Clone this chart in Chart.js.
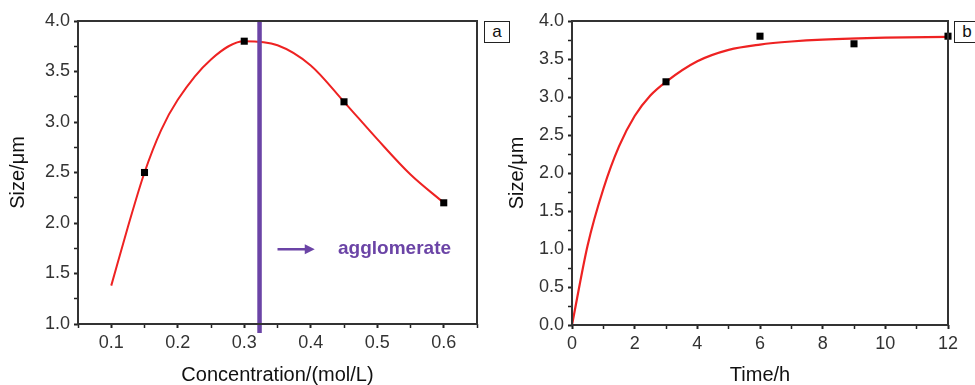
<!DOCTYPE html>
<html lang="en">
<head>
<meta charset="UTF-8">
<title>Size vs concentration and time</title>
<script src="https://cdn.jsdelivr.net/npm/chart.js"></script>
<style>
    body { margin: 0; background: #fff; font-family: "Liberation Sans", Arial, sans-serif; }
    #wrap { position: relative; width: 975px; height: 385px; overflow: hidden; }
    .panel { position: absolute; top: 0; height: 385px; }
    #panelA { left: 0; width: 482px; }
    #panelB { left: 490px; width: 485px; }
    .tag {
        position: absolute; top: 21px; width: 24px; height: 20px;
        border: 1px solid #222; font-size: 17px; line-height: 19px;
        text-align: center; color: #111; background: #fff;
    }
</style>
</head>
<body>
<div id="wrap">
    <div class="panel" id="panelA"><canvas id="chartA"></canvas></div>
    <div class="panel" id="panelB"><canvas id="chartB"></canvas></div>
    <div class="tag" style="left:484px">a</div>
    <div class="tag" style="left:954px">b</div>
</div>
<script>
// panel a: size vs concentration
const concPoints = [0.15, 0.3, 0.45, 0.6];
const concSizes = [2.5, 3.8, 3.2, 2.2];
const concFitX = [0.1, 0.125, 0.15, 0.175, 0.2, 0.25, 0.3, 0.35, 0.4, 0.45, 0.5, 0.55, 0.6];
const concFitY = [1.38, 1.96, 2.5, 2.92, 3.22, 3.62, 3.8, 3.76, 3.56, 3.2, 2.83, 2.48, 2.2];
const agglomerateAt = 0.323;

// panel b: size vs time
const timePoints = [3, 6, 9, 12];
const timeSizes = [3.2, 3.8, 3.7, 3.8];
const timeFitX = [0, 0.5, 1, 1.5, 2, 2.5, 3, 4, 5, 6, 7, 8, 10, 12];
const timeFitY = [0, 1.05, 1.79, 2.35, 2.75, 3.02, 3.2, 3.47, 3.62, 3.69, 3.73, 3.755, 3.78, 3.79];

const RED = '#ee2222';
const PURPLE = '#6b44a6';
const INK = '#222';

function pairs(xs, ys) {
    return xs.map((x, i) => ({ x: x, y: ys[i] }));
}

const framePlugin = {
    id: 'frame',
    afterDraw(chart) {
        const a = chart.chartArea;
        const ctx = chart.ctx;
        ctx.save();
        ctx.strokeStyle = '#333';
        ctx.lineWidth = 2;
        ctx.strokeRect(a.left, a.top, a.right - a.left, a.bottom - a.top);
        ctx.restore();
    }
};

const arrowPlugin = {
    id: 'agglomerate',
    afterDatasetsDraw(chart) {
        if (chart.canvas.id !== 'chartA') return;
        const xs = chart.scales.x, ys = chart.scales.y;
        const ctx = chart.ctx;
        const y = ys.getPixelForValue(1.74);
        const x0 = xs.getPixelForValue(0.35), x1 = xs.getPixelForValue(0.406);
        ctx.save();
        ctx.strokeStyle = PURPLE;
        ctx.fillStyle = PURPLE;
        ctx.lineWidth = 2.5;
        ctx.beginPath();
        ctx.moveTo(x0, y);
        ctx.lineTo(x1 - 6, y);
        ctx.stroke();
        ctx.beginPath();
        ctx.moveTo(x1, y);
        ctx.lineTo(x1 - 10, y - 5);
        ctx.lineTo(x1 - 10, y + 5);
        ctx.closePath();
        ctx.fill();
        ctx.font = 'bold 19px "Liberation Sans", Arial, sans-serif';
        ctx.textAlign = 'center';
        ctx.textBaseline = 'middle';
        ctx.fillText('agglomerate', xs.getPixelForValue(0.526), y);
        ctx.restore();
    }
};

function axisX(opts) {
    return {
        type: 'linear',
        min: opts.min, max: opts.max,
        afterFit(scale) { scale.height = opts.height; },
        afterBuildTicks(scale) {
            const t = [];
            for (let v = opts.min; v <= opts.max + 1e-9; v += opts.step) t.push({ value: +v.toFixed(4) });
            scale.ticks = t;
        },
        border: { display: false },
        grid: {
            drawOnChartArea: false, drawTicks: true, tickLength: 4, color: INK,
            tickWidth: c => opts.label(c.tick.value) ? 2 : 1.5
        },
        ticks: {
            color: '#333', padding: 4, maxRotation: 0, autoSkip: false,
            font: { size: 18, family: '"Liberation Sans", Arial, sans-serif' },
            callback: v => opts.label(v) ? opts.fmt(v) : ''
        },
        title: {
            display: true, text: opts.title, color: '#111',
            font: { size: 20, lineHeight: 1, family: '"Liberation Sans", Arial, sans-serif' },
            padding: { top: opts.titlePad, bottom: 0 }
        }
    };
}

function axisY(opts) {
    return {
        type: 'linear',
        min: opts.min, max: opts.max,
        afterFit(scale) { scale.width = opts.width; },
        afterBuildTicks(scale) {
            const t = [];
            for (let v = opts.min; v <= opts.max + 1e-9; v += 0.25) t.push({ value: +v.toFixed(2) });
            scale.ticks = t;
        },
        border: { display: false },
        grid: {
            drawOnChartArea: false, drawTicks: true, tickLength: 4, color: INK,
            tickWidth: c => Math.round(c.tick.value * 100) % 50 === 0 ? 2 : 1.5
        },
        ticks: {
            color: '#333', padding: 4, autoSkip: false,
            font: { size: 18, family: '"Liberation Sans", Arial, sans-serif' },
            callback: v => Math.round(v * 100) % 50 === 0 ? v.toFixed(1) : ''
        },
        title: {
            display: true, text: 'Size/μm', color: '#111',
            font: { size: 20, lineHeight: 1, family: '"Liberation Sans", Arial, sans-serif' },
            padding: { top: opts.titlePad, bottom: 0 }
        }
    };
}

const common = {
    responsive: true,
    maintainAspectRatio: false,
    animation: false,
    plugins: { legend: { display: false }, tooltip: { enabled: false } },
    elements: { point: { radius: 0 } }
};

new Chart(document.getElementById('chartA'), {
    type: 'line',
    data: {
        datasets: [
            {
                data: pairs(concFitX, concFitY),
                borderColor: RED, borderWidth: 2, cubicInterpolationMode: 'monotone',
                pointRadius: 0, fill: false, order: 3
            },
            {
                data: pairs(concPoints, concSizes),
                showLine: false, pointStyle: 'rect', pointRadius: 5,
                pointBackgroundColor: '#000', pointBorderColor: '#000', pointBorderWidth: 0,
                clip: false, order: 2
            },
            {
                data: [{ x: agglomerateAt, y: 4.0 }, { x: agglomerateAt, y: 0.91 }],
                borderColor: PURPLE, borderWidth: 4.5, pointRadius: 0,
                clip: false, order: 1
            }
        ]
    },
    options: Object.assign({}, common, {
        layout: { padding: { top: 21, right: 4, bottom: 0, left: 0 } },
        scales: {
            x: axisX({
                min: 0.05, max: 0.65, step: 0.05, height: 61, title: 'Concentration/(mol/L)', titlePad: 0,
                label: v => { const k = Math.round(v * 100); return k % 10 === 0 && k >= 10 && k <= 60; },
                fmt: v => v.toFixed(1)
            }),
            y: axisY({ min: 1, max: 4, width: 78, titlePad: 8 })
        }
    }),
    plugins: [framePlugin, arrowPlugin]
});

new Chart(document.getElementById('chartB'), {
    type: 'line',
    data: {
        datasets: [
            {
                data: pairs(timeFitX, timeFitY),
                borderColor: RED, borderWidth: 2.2, cubicInterpolationMode: 'monotone',
                pointRadius: 0, fill: false, order: 2
            },
            {
                data: pairs(timePoints, timeSizes),
                showLine: false, pointStyle: 'rect', pointRadius: 5,
                pointBackgroundColor: '#000', pointBorderColor: '#000', pointBorderWidth: 0,
                clip: false, order: 1
            }
        ]
    },
    options: Object.assign({}, common, {
        layout: { padding: { top: 21, right: 27, bottom: 0, left: 0 } },
        scales: {
            x: axisX({
                min: 0, max: 12, step: 1, height: 60, title: 'Time/h', titlePad: 7,
                label: v => Math.round(v) % 2 === 0,
                fmt: v => String(Math.round(v))
            }),
            y: axisY({ min: 0, max: 4, width: 82, titlePad: 17 })
        }
    }),
    plugins: [framePlugin]
});
</script>
</body>
</html>
